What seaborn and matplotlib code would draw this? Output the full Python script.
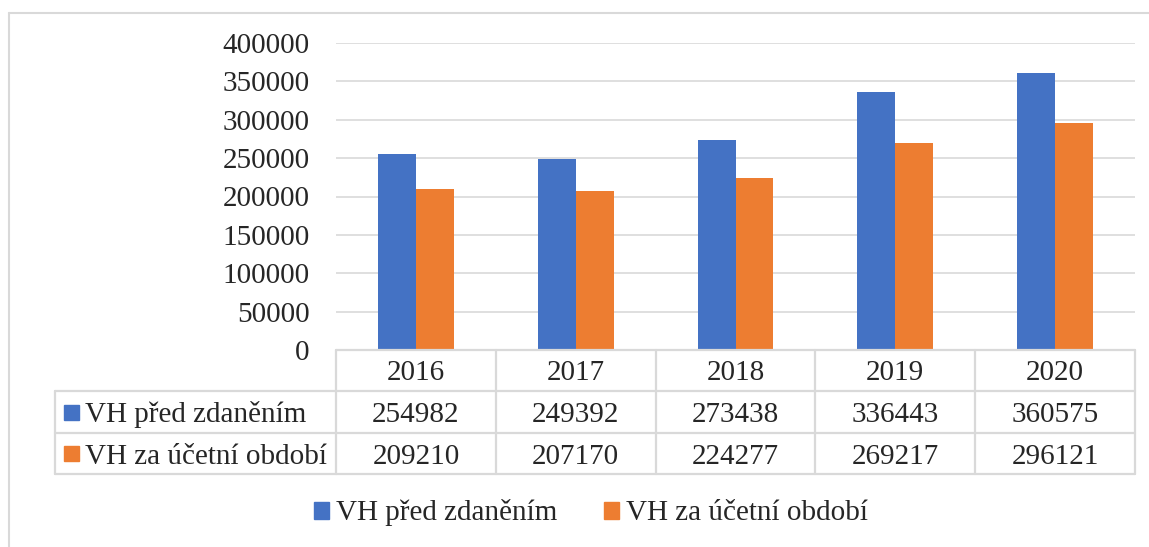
import matplotlib
matplotlib.use("Agg")
import matplotlib.pyplot as plt
import matplotlib.transforms as mtransforms
from matplotlib.patches import Rectangle, Patch
from matplotlib.lines import Line2D
import seaborn as sns
import pandas as pd

years = ["2016", "2017", "2018", "2019", "2020"]
series_names = ["VH před zdaněním", "VH za účetní období"]
vh_pred = [254982, 249392, 273438, 336443, 360575]
vh_za = [209210, 207170, 224277, 269217, 296121]
yticks = [0, 50000, 100000, 150000, 200000, 250000, 300000, 350000, 400000]

BLUE = "#4472C4"
ORANGE = "#ED7D31"
GRID = "#D9D9D9"
FS = 21

sns.set_style("white")
plt.rcParams["font.family"] = ["Liberation Serif", "DejaVu Serif"]

W, H = 1149, 547
fig = plt.figure(figsize=(W / 100, H / 100), dpi=100)

def fx(px):
    return px / W

def fy(py):
    return 1 - py / H

ax = fig.add_axes([fx(336), fy(350), fx(1135) - fx(336), fy(43) - fy(350)])

df = pd.DataFrame({
    "year": years * 2,
    "value": vh_pred + vh_za,
    "series": [series_names[0]] * len(years) + [series_names[1]] * len(years),
})
sns.barplot(data=df, x="year", y="value", hue="series", palette=[BLUE, ORANGE],
            width=0.475, saturation=1, ax=ax, legend=False, edgecolor="none")

ax.set_xlim(-0.5, len(years) - 0.5)
ax.set_ylim(0, 400000)
ax.set_yticks(yticks)
ax.set_yticklabels([str(v) for v in yticks], fontsize=FS)
ax.tick_params(axis="y", length=0, pad=19)
ax.set_xticks([])
ax.set_xlabel("")
ax.set_ylabel("")
for s in ax.spines.values():
    s.set_visible(False)
ax.yaxis.grid(True, color=GRID, linewidth=1.2)
ax.set_axisbelow(True)

# data table
bt = mtransforms.blended_transform_factory(ax.transData, fig.transFigure)
rows_y = [350, 391, 433, 474]
lw = 1.6
# horizontal lines
ax.add_line(Line2D([-0.5, len(years) - 0.5], [fy(350), fy(350)], transform=bt,
                   color=GRID, lw=lw, clip_on=False))
left_px = 55
for py in rows_y[1:]:
    fig.add_artist(Line2D([fx(left_px), fx(336)], [fy(py), fy(py)], color=GRID, lw=lw))
    ax.add_line(Line2D([-0.5, len(years) - 0.5], [fy(py), fy(py)], transform=bt,
                       color=GRID, lw=lw, clip_on=False))
for i in range(len(years) + 1):
    ax.add_line(Line2D([i - 0.5, i - 0.5], [fy(350), fy(474)], transform=bt,
                       color=GRID, lw=lw, clip_on=False))
fig.add_artist(Line2D([fx(left_px), fx(left_px)], [fy(391), fy(474)], color=GRID, lw=lw))

for i, y in enumerate(years):
    ax.text(i, fy(370.5), y, transform=bt, ha="center", va="center_baseline", fontsize=FS)
    ax.text(i, fy(412), str(vh_pred[i]), transform=bt, ha="center", va="center_baseline", fontsize=FS)
    ax.text(i, fy(453.5), str(vh_za[i]), transform=bt, ha="center", va="center_baseline", fontsize=FS)

for name, col, cy in [(series_names[0], BLUE, 412), (series_names[1], ORANGE, 453.5)]:
    fig.add_artist(Rectangle((fx(64), fy(cy + 7.5)), fx(15), 15 / H, color=col,
                             transform=fig.transFigure))
    fig.text(fx(85), fy(cy), name, ha="left", va="center_baseline", fontsize=FS)

# legend
handles = [Patch(color=BLUE, label=series_names[0]), Patch(color=ORANGE, label=series_names[1])]
fig.legend(handles=handles, loc="center", bbox_to_anchor=(fx(591), fy(513)), ncol=2,
           frameon=False, fontsize=FS, handlelength=0.52, handleheight=0.52,
           handletextpad=0.25, columnspacing=1.6, borderpad=0, borderaxespad=0)

# outer chart border (partially visible)
fig.add_artist(Line2D([fx(9), 1], [fy(13), fy(13)], color=GRID, lw=1.5))
fig.add_artist(Line2D([fx(9), fx(9)], [fy(13), 0], color=GRID, lw=1.5))

fig.savefig("out.png", dpi=100, facecolor="white")
